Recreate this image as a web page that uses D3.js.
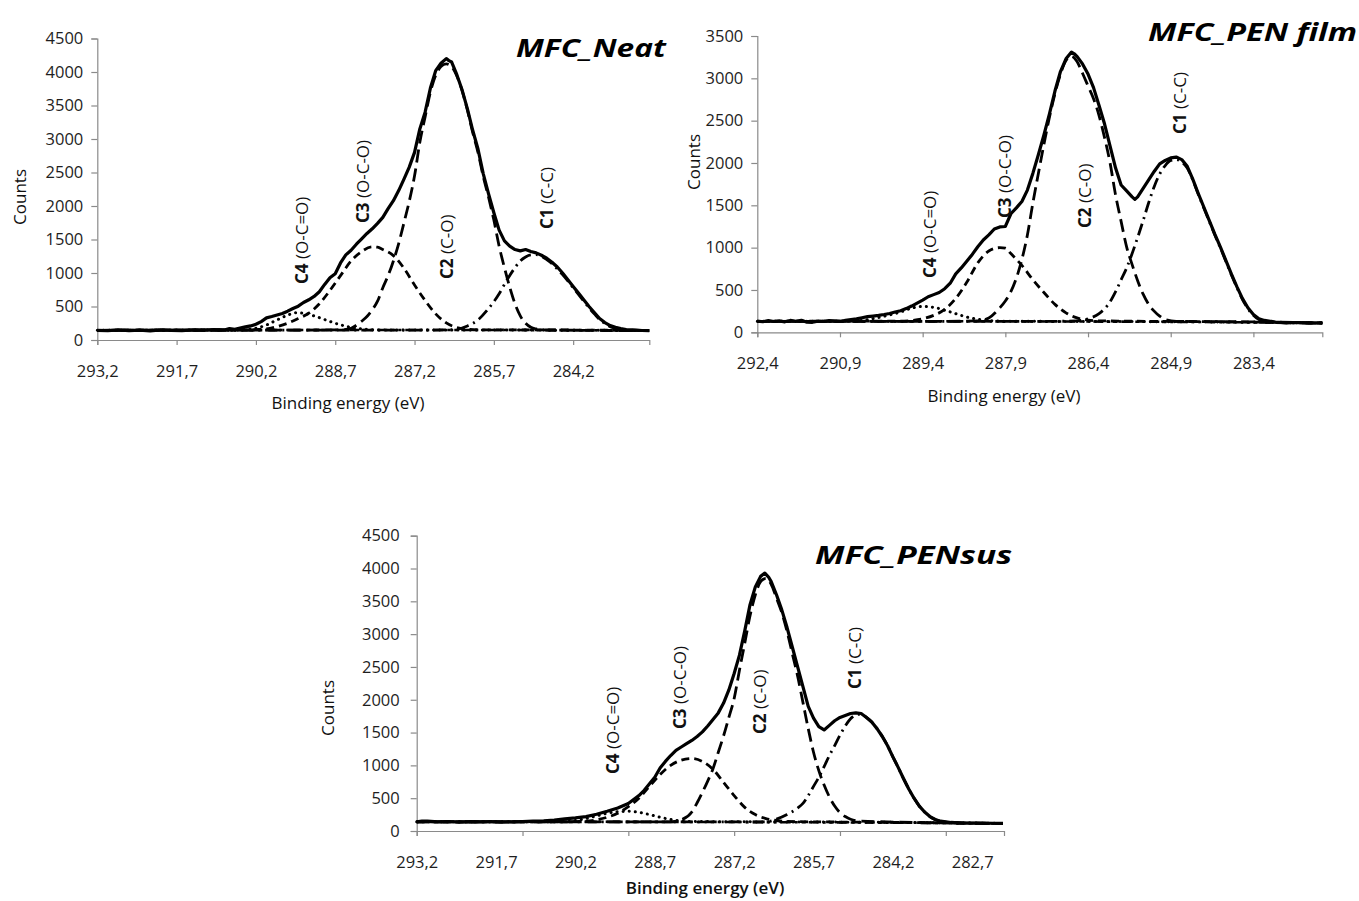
<!DOCTYPE html>
<html>
<head>
<meta charset="utf-8">
<script src="https://cdn.jsdelivr.net/npm/d3@7"></script>
<style>
  body { margin: 0; background: #fff; }
  svg { display: block; font-family: "Open Sans", sans-serif; }
</style>
</head>
<body>
<svg id="fig" width="1359" height="901"></svg>
<script>
// ---- data: [binding energy (eV), counts] ----

var peakNames  = ["C4", "C3", "C2", "C1"];
var peakGroups = ["(O-C=O)", "(O-C-O)", "(C-O)", "(C-C)"];

var neatXTicks = [293.2, 291.7, 290.2, 288.7, 287.2, 285.7, 284.2];
var filmXTicks = [292.4, 290.9, 289.4, 287.9, 286.4, 284.9, 283.4];
var susXTicks  = [293.2, 291.7, 290.2, 288.7, 287.2, 285.7, 284.2, 282.7];
var susXMarks  = [293.2, 291.2, 289.2, 287.2, 285.2, 283.2];
var neatYTicks = [0, 500, 1000, 1500, 2000, 2500, 3000, 3500, 4000, 4500];
var filmYTicks = [0, 500, 1000, 1500, 2000, 2500, 3000, 3500];

// MFC_Neat
var neatEnvelope = [[293.2,145],[293.0,138],[292.8,150],[292.6,140],[292.4,148],[292.2,136],[292.0,150],[291.8,144],[291.6,139],[291.4,152],[291.2,146],[291.0,155],[290.8,150],[290.7,172],[290.6,160],[290.5,178],[290.4,195],[290.3,210],[290.2,235],[290.1,275],[290.0,330],[289.9,350],[289.8,372],[289.7,395],[289.6,430],[289.5,470],[289.4,505],[289.3,560],[289.2,600],[289.1,650],[289.0,720],[288.9,830],[288.8,930],[288.7,990],[288.6,1150],[288.5,1270],[288.4,1340],[288.3,1430],[288.2,1510],[288.1,1590],[288.0,1660],[287.9,1740],[287.8,1830],[287.7,1960],[287.6,2080],[287.5,2230],[287.4,2400],[287.3,2580],[287.2,2800],[287.1,3150],[287.0,3400],[286.9,3760],[286.8,4020],[286.7,4130],[286.6,4200],[286.55,4170],[286.5,4150],[286.4,3960],[286.3,3730],[286.2,3450],[286.1,3130],[286.0,2850],[285.9,2480],[285.8,2180],[285.7,1900],[285.6,1640],[285.5,1480],[285.4,1400],[285.3,1350],[285.2,1330],[285.1,1350],[285.0,1320],[284.9,1300],[284.8,1265],[284.7,1220],[284.6,1160],[284.5,1090],[284.4,1000],[284.3,900],[284.2,800],[284.1,700],[284.0,600],[283.9,500],[283.8,410],[283.7,320],[283.6,260],[283.5,215],[283.4,190],[283.3,170],[283.2,155],[283.0,148],[282.9,142],[282.76,140]];
var neatC1 = [[293.2,145],[287.0,148],[286.6,150],[286.4,160],[286.2,210],[286.0,300],[285.8,470],[285.6,690],[285.45,900],[285.3,1080],[285.2,1180],[285.1,1240],[285.0,1270],[284.9,1275],[284.8,1250],[284.7,1200],[284.6,1140],[284.5,1060],[284.4,975],[284.3,880],[284.2,780],[284.1,680],[284.0,580],[283.9,480],[283.8,390],[283.7,305],[283.6,245],[283.5,200],[283.4,175],[283.3,158],[283.2,150],[282.76,140]];
var neatC2 = [[293.2,145],[290.0,148],[288.6,150],[288.4,175],[288.3,220],[288.2,280],[288.1,350],[288.0,450],[287.9,580],[287.8,780],[287.7,960],[287.6,1180],[287.5,1440],[287.4,1750],[287.3,2070],[287.2,2450],[287.1,2950],[287.0,3330],[286.9,3700],[286.8,3950],[286.7,4080],[286.6,4120],[286.5,4080],[286.4,3940],[286.3,3720],[286.2,3430],[286.1,3100],[286.0,2800],[285.9,2440],[285.8,2130],[285.7,1790],[285.6,1400],[285.5,1080],[285.4,790],[285.3,540],[285.2,360],[285.1,250],[285.0,190],[284.9,165],[284.8,152],[284.5,148],[282.76,140]];
var neatC3 = [[293.2,145],[290.4,150],[290.2,155],[290.0,165],[289.8,200],[289.6,250],[289.4,320],[289.2,400],[289.0,540],[288.8,740],[288.6,960],[288.4,1180],[288.2,1320],[288.0,1390],[287.9,1385],[287.8,1350],[287.6,1260],[287.4,1070],[287.2,820],[287.0,590],[286.8,390],[286.6,255],[286.4,185],[286.2,160],[286.0,152],[284.0,148],[282.76,140]];
var neatC4 = [[293.2,145],[290.6,150],[290.4,158],[290.2,175],[290.0,225],[289.8,300],[289.6,370],[289.45,405],[289.3,400],[289.1,360],[288.9,305],[288.7,250],[288.5,205],[288.3,175],[288.1,158],[287.9,150],[285.0,148],[282.76,140]];
var neatBaseline = [[293.2,145],[291.0,148],[288.0,150],[285.0,148],[282.76,140]];

// MFC_PEN film
var filmEnvelope = [[292.4,132],[292.3,125],[292.2,138],[292.1,128],[292.0,135],[291.9,124],[291.8,140],[291.7,130],[291.6,142],[291.5,120],[291.4,118],[291.3,132],[291.2,128],[291.1,138],[291.0,135],[290.9,128],[290.8,140],[290.7,150],[290.6,158],[290.5,172],[290.4,185],[290.3,192],[290.2,200],[290.1,210],[290.0,222],[289.9,240],[289.8,255],[289.7,280],[289.6,310],[289.5,345],[289.4,380],[289.3,420],[289.2,445],[289.1,470],[289.0,515],[288.9,580],[288.8,690],[288.7,760],[288.6,840],[288.5,920],[288.4,1010],[288.3,1090],[288.2,1150],[288.1,1220],[288.0,1245],[287.9,1250],[287.8,1400],[287.7,1470],[287.6,1545],[287.5,1680],[287.4,1880],[287.3,2100],[287.2,2330],[287.1,2580],[287.0,2850],[286.9,3080],[286.8,3230],[286.7,3310],[286.65,3290],[286.6,3260],[286.5,3170],[286.4,3050],[286.3,2890],[286.2,2680],[286.1,2460],[286.0,2200],[285.9,1940],[285.8,1740],[285.7,1670],[285.6,1600],[285.55,1570],[285.5,1600],[285.4,1700],[285.3,1800],[285.2,1900],[285.1,1990],[285.0,2030],[284.9,2060],[284.8,2070],[284.7,2040],[284.6,1960],[284.5,1810],[284.4,1640],[284.3,1480],[284.2,1320],[284.1,1160],[284.0,1010],[283.9,850],[283.8,690],[283.7,540],[283.6,400],[283.5,290],[283.4,210],[283.3,160],[283.2,140],[283.0,122],[282.8,112],[282.6,116],[282.4,108],[282.15,112]];
var filmC1 = [[292.4,130],[287.0,130],[286.6,135],[286.4,160],[286.2,220],[286.0,360],[285.9,480],[285.8,620],[285.7,760],[285.6,930],[285.5,1120],[285.4,1320],[285.3,1530],[285.2,1720],[285.1,1870],[285.0,1970],[284.9,2030],[284.8,2040],[284.7,2010],[284.6,1940],[284.5,1800],[284.4,1630],[284.3,1470],[284.2,1310],[284.1,1150],[284.0,1000],[283.9,840],[283.8,680],[283.7,530],[283.6,390],[283.5,280],[283.4,200],[283.3,150],[283.2,130],[283.0,115],[282.15,110]];
var filmC2 = [[292.4,130],[289.0,130],[288.4,135],[288.2,170],[288.0,290],[287.9,370],[287.8,480],[287.7,640],[287.6,860],[287.5,1150],[287.4,1530],[287.3,1880],[287.2,2220],[287.1,2540],[287.0,2820],[286.9,3050],[286.8,3210],[286.7,3260],[286.6,3200],[286.5,3060],[286.4,2910],[286.3,2760],[286.2,2560],[286.1,2300],[286.0,2000],[285.9,1620],[285.8,1310],[285.7,1010],[285.6,800],[285.5,610],[285.4,450],[285.3,330],[285.2,250],[285.1,190],[285.0,150],[284.8,130],[283.0,120],[282.15,110]];
var filmC3 = [[292.4,130],[289.8,132],[289.6,140],[289.4,160],[289.2,200],[289.0,270],[288.8,400],[288.6,590],[288.4,820],[288.2,960],[288.0,1000],[287.9,995],[287.8,930],[287.6,790],[287.4,620],[287.2,470],[287.0,330],[286.8,230],[286.6,170],[286.4,145],[286.2,135],[284.0,125],[282.15,110]];
var filmC4 = [[292.4,130],[290.8,130],[290.6,135],[290.4,150],[290.2,175],[290.0,205],[289.8,240],[289.6,285],[289.4,305],[289.2,295],[289.0,260],[288.8,220],[288.6,180],[288.4,155],[288.2,140],[288.0,132],[284.0,122],[282.15,110]];
var filmBaseline = [[292.4,130],[289.0,130],[286.0,126],[283.5,118],[282.15,110]];

// MFC_PENsus
var susEnvelope = [[293.2,140],[293.1,152],[293.0,150],[292.8,138],[292.6,145],[292.4,135],[292.2,142],[292.0,138],[291.8,145],[291.6,136],[291.4,140],[291.2,145],[291.0,150],[290.8,155],[290.6,165],[290.4,185],[290.2,200],[290.0,220],[289.8,255],[289.6,300],[289.4,350],[289.2,420],[289.0,540],[288.9,620],[288.8,720],[288.7,820],[288.6,960],[288.5,1060],[288.4,1150],[288.3,1230],[288.2,1280],[288.1,1330],[288.0,1380],[287.9,1440],[287.8,1510],[287.7,1600],[287.6,1700],[287.5,1800],[287.4,1950],[287.3,2150],[287.2,2400],[287.1,2680],[287.0,3050],[286.9,3450],[286.8,3720],[286.7,3880],[286.62,3930],[286.55,3870],[286.5,3800],[286.4,3600],[286.3,3370],[286.2,3100],[286.1,2800],[286.0,2500],[285.9,2200],[285.8,1900],[285.7,1720],[285.6,1590],[285.5,1540],[285.4,1610],[285.3,1680],[285.2,1730],[285.1,1760],[285.0,1790],[284.9,1800],[284.8,1790],[284.7,1730],[284.6,1660],[284.5,1560],[284.4,1440],[284.3,1300],[284.2,1130],[284.1,970],[284.0,800],[283.9,640],[283.8,500],[283.7,380],[283.6,290],[283.5,220],[283.4,175],[283.3,150],[283.1,130],[282.9,122],[282.6,120],[282.3,118],[282.12,115]];
var susC1 = [[293.2,140],[287.0,138],[286.6,140],[286.4,180],[286.2,250],[286.0,350],[285.9,420],[285.8,540],[285.7,680],[285.6,820],[285.5,980],[285.4,1150],[285.3,1300],[285.2,1460],[285.1,1600],[285.0,1710],[284.9,1770],[284.8,1780],[284.7,1730],[284.6,1660],[284.5,1560],[284.4,1440],[284.3,1300],[284.2,1130],[284.1,970],[284.0,800],[283.9,640],[283.8,500],[283.7,380],[283.6,290],[283.5,220],[283.4,175],[283.3,150],[283.1,130],[282.9,122],[282.12,115]];
var susC2 = [[293.2,140],[290.0,140],[288.4,140],[288.2,170],[288.0,290],[287.9,430],[287.8,590],[287.7,760],[287.6,950],[287.5,1200],[287.4,1450],[287.3,1730],[287.2,2020],[287.1,2450],[287.0,2860],[286.9,3280],[286.8,3600],[286.7,3800],[286.6,3850],[286.5,3760],[286.4,3550],[286.3,3330],[286.2,3040],[286.1,2700],[286.0,2360],[285.9,1960],[285.8,1560],[285.7,1200],[285.6,920],[285.5,700],[285.4,520],[285.3,380],[285.2,280],[285.1,220],[285.0,180],[284.8,150],[282.12,115]];
var susC3 = [[293.2,140],[290.4,140],[290.0,150],[289.8,170],[289.6,210],[289.4,270],[289.2,370],[289.0,500],[288.8,680],[288.6,860],[288.4,1000],[288.2,1080],[288.0,1105],[287.8,1060],[287.6,940],[287.4,740],[287.2,540],[287.0,360],[286.8,250],[286.6,190],[286.4,160],[286.2,145],[284.0,130],[282.12,115]];
var susC4 = [[293.2,140],[290.6,140],[290.4,145],[290.2,160],[290.0,190],[289.8,230],[289.6,270],[289.4,295],[289.2,300],[289.0,285],[288.8,250],[288.6,210],[288.4,175],[288.2,155],[288.0,145],[284.0,130],[282.12,115]];
var susBaseline = [[293.2,140],[290.0,140],[287.0,136],[284.0,126],[282.12,115]];

// ---- layout of the three panels (pixels), plus where the peak labels sit ----
var panels = [
  { title: "MFC_Neat", titleX: 516, titleY: 57, titleW: 150,
    left: 97.3, right: 649.3, top: 38.5, bottom: 340,
    eMax: 293.2, eMin: 282.76, yMax: 4500, yTicks: neatYTicks,
    xLabels: neatXTicks, xMarks: neatXTicks, yPad: 8,
    env: neatEnvelope, c1: neatC1, c2: neatC2, c3: neatC3, c4: neatC4, base: neatBaseline,
    peakAt: [[302, 284], [363, 223], [447, 279], [547, 229]],
    countsAt: [20, 197], energyAt: [348, 409], energyBold: false },
  { title: "MFC_PEN film", titleX: 1148, titleY: 41, titleW: 209,
    left: 757.3, right: 1322.3, top: 36, bottom: 332.3,
    eMax: 292.4, eMin: 282.15, yMax: 3500, yTicks: filmYTicks,
    xLabels: filmXTicks, xMarks: filmXTicks, yPad: 8,
    env: filmEnvelope, c1: filmC1, c2: filmC2, c3: filmC3, c4: filmC4, base: filmBaseline,
    peakAt: [[930, 278], [1005, 218], [1085, 228], [1180, 134]],
    countsAt: [694, 162], energyAt: [1004, 402], energyBold: false },
  { title: "MFC_PENsus", titleX: 815, titleY: 564, titleW: 197,
    left: 416.7, right: 1004, top: 535.7, bottom: 831,
    eMax: 293.2, eMin: 282.1, yMax: 4500, yTicks: neatYTicks,
    xLabels: susXTicks, xMarks: susXMarks, yPad: 11,
    env: susEnvelope, c1: susC1, c2: susC2, c3: susC3, c4: susC4, base: susBaseline,
    peakAt: [[613, 774], [680, 729], [760, 734], [855, 689]],
    countsAt: [328, 708], energyAt: [705, 894], energyBold: true }
];

var lineStyles = {
  base: { dash: "10,4,3,4,3,4", w: 2.6, cap: "butt" },
  c4:   { dash: "0.1,6", w: 3, cap: "round" },
  c3:   { dash: "8,5", w: 2.8, cap: "butt" },
  c2:   { dash: "13,6", w: 2.8, cap: "butt" },
  c1:   { dash: "12,5,2,5", w: 2.8, cap: "butt" }
};

var svg = d3.select("#fig");
var axisGrey = "#8a8a8a";
var commaFmt = function(v) { return d3.format(".1f")(v).replace(".", ","); };

panels.forEach(function(p) {
  var g = svg.append("g");

  var x = d3.scaleLinear().domain([p.eMax, p.eMin]).range([p.left, p.right]);
  var y = d3.scaleLinear().domain([0, p.yMax]).range([p.bottom, p.top]);

  // y axis
  var ya = g.append("g")
      .attr("transform", "translate(" + p.left + ",0)")
      .call(d3.axisLeft(y).tickValues(p.yTicks).tickSize(6).tickPadding(p.yPad).tickFormat(d3.format("d")));

  // x axis: tick marks and labels can sit on different spacings
  var xm = g.append("g")
      .attr("transform", "translate(0," + p.bottom + ")")
      .call(d3.axisBottom(x).tickValues(p.xMarks).tickSize(5).tickFormat(""));
  var xl = g.append("g")
      .attr("transform", "translate(0," + p.bottom + ")")
      .call(d3.axisBottom(x).tickValues(p.xLabels).tickSize(0).tickPadding(25).tickFormat(commaFmt));
  xl.select(".domain").remove();

  [ya, xm, xl].forEach(function(a) {
    a.selectAll(".domain").attr("stroke", axisGrey).attr("stroke-width", 1.2);
    a.selectAll(".tick line").attr("stroke", axisGrey).attr("stroke-width", 1.2);
    a.selectAll("text").attr("fill", "#1e1e1e").style("font-size", "16.5px")
      .style("font-family", "'Open Sans', sans-serif");
  });

  var curve = d3.line().x(function(d) { return x(d[0]); }).y(function(d) { return y(d[1]); });

  ["base", "c4", "c3", "c2", "c1"].forEach(function(k) {
    var s = lineStyles[k];
    g.append("path")
      .datum(p[k])
      .attr("fill", "none")
      .attr("stroke", "#000")
      .attr("stroke-width", s.w)
      .attr("stroke-dasharray", s.dash)
      .attr("stroke-linecap", s.cap)
      .attr("d", curve.curve(d3.curveMonotoneX));
  });

  g.append("path")
    .datum(p.env)
    .attr("fill", "none")
    .attr("stroke", "#000")
    .attr("stroke-width", 3.2)
    .attr("stroke-linejoin", "round")
    .attr("d", curve.curve(d3.curveLinear));

  // peak labels, written bottom-to-top
  peakNames.forEach(function(n, i) {
    var t = g.append("text")
      .attr("transform", "translate(" + (p.peakAt[i][0] + 6) + "," + p.peakAt[i][1] + ") rotate(-90)")
      .attr("fill", "#111")
      .style("font-size", "17px");
    t.append("tspan").style("font-weight", "bold").text(n);
    t.append("tspan").text(" " + peakGroups[i]);
  });

  // titles
  g.append("text")
    .attr("x", p.titleX).attr("y", p.titleY)
    .attr("textLength", p.titleW).attr("lengthAdjust", "spacingAndGlyphs")
    .style("font-size", "25px").style("font-weight", "bold").style("font-style", "italic")
    .attr("fill", "#000")
    .text(p.title);

  g.append("text")
    .attr("transform", "translate(" + (p.countsAt[0] + 6) + "," + p.countsAt[1] + ") rotate(-90)")
    .attr("text-anchor", "middle")
    .attr("fill", "#111")
    .style("font-size", "17px")
    .text("Counts");

  g.append("text")
    .attr("x", p.energyAt[0]).attr("y", p.energyAt[1])
    .attr("text-anchor", "middle")
    .attr("fill", "#111")
    .style("font-size", "17px")
    .style("font-weight", p.energyBold ? "600" : "normal")
    .text("Binding energy (eV)");
});
</script>
</body>
</html>
